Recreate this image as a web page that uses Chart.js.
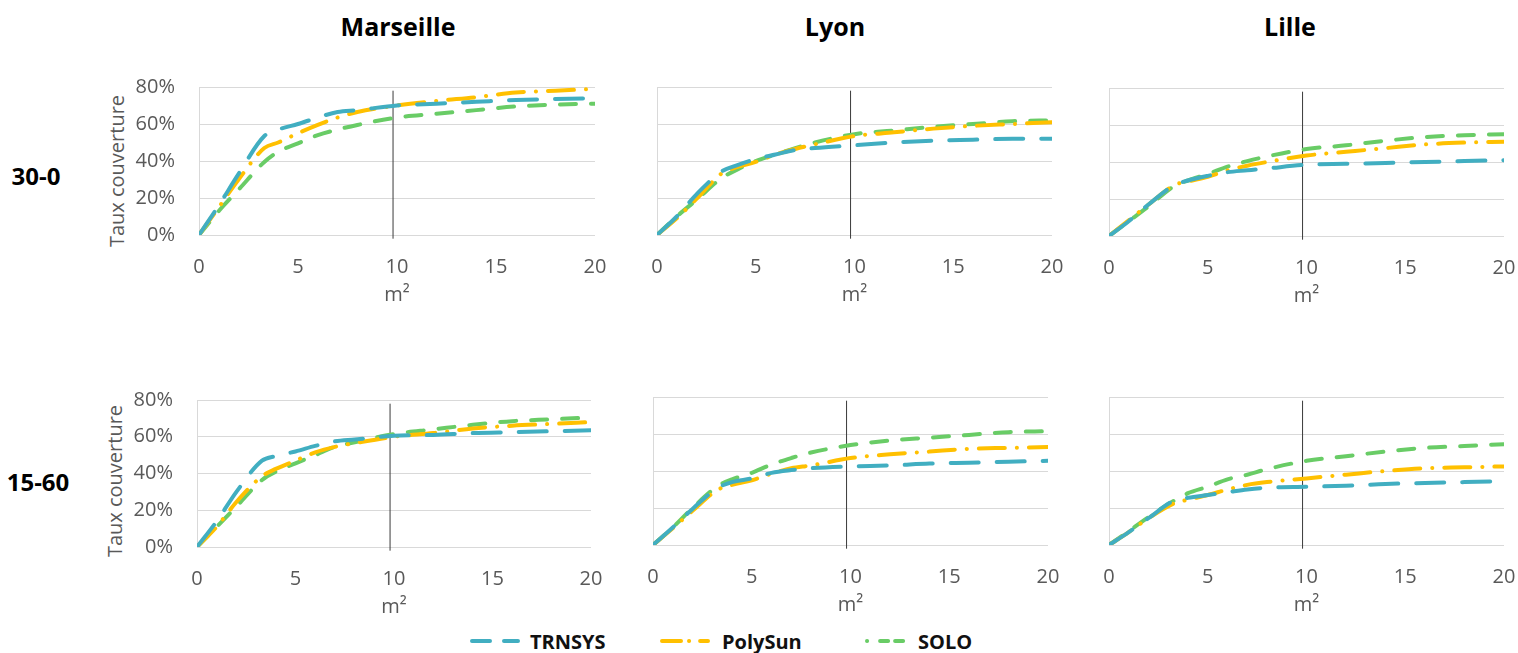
<!DOCTYPE html>
<html>
<head>
<meta charset="utf-8">
<script src="https://cdn.jsdelivr.net/npm/chart.js@4/dist/chart.umd.min.js"></script>
<style>
  html, body { margin: 0; padding: 0; background: #fff; }
  #page { position: relative; width: 1518px; height: 653px; overflow: hidden; font-family: "Open Sans", sans-serif; }
  #page canvas { position: absolute; }
  .title { position: absolute; font-weight: bold; font-size: 25px; color: #000; transform: translate(-50%, -50%); white-space: nowrap; }
  .row { position: absolute; font-weight: bold; font-size: 24px; color: #000; transform: translate(-50%, -50%); white-space: nowrap; }
  .ytitle { position: absolute; font-size: 20px; color: #595959; white-space: nowrap; transform: translate(-50%, -50%) rotate(-90deg); }
  .leg { position: absolute; font-weight: bold; font-size: 20px; color: #111; transform: translateY(-50%); white-space: nowrap; }
  .legsvg { position: absolute; }
</style>
</head>
<body>
<div id="page">
  <div class="title" style="left:398px; top:26px;">Marseille</div>
  <div class="title" style="left:835px; top:26px;">Lyon</div>
  <div class="title" style="left:1290px; top:26px;">Lille</div>
  <div class="row" style="left:36px; top:175px;">30-0</div>
  <div class="row" style="left:38px; top:481px;">15-60</div>
  <div class="ytitle" style="left:116px; top:171px;">Taux couverture</div>
  <div class="ytitle" style="left:114px; top:481px;">Taux couverture</div>

  <svg class="legsvg" style="left:466px; top:636px;" width="56" height="10">
    <line x1="6" y1="5" x2="52" y2="5" stroke="#41AEC1" stroke-width="4" stroke-linecap="round" stroke-dasharray="18 14"/>
  </svg>
  <div class="leg" style="left:530px; top:641px;">TRNSYS</div>
  <svg class="legsvg" style="left:656px; top:636px;" width="56" height="10">
    <line x1="6" y1="5" x2="52" y2="5" stroke="#FFC000" stroke-width="4" stroke-linecap="round" stroke-dasharray="19 8 0.1 11"/>
  </svg>
  <div class="leg" style="left:722px; top:641px;">PolySun</div>
  <svg class="legsvg" style="left:862px; top:636px;" width="50" height="10">
    <line x1="5" y1="5" x2="45" y2="5" stroke="#69CC66" stroke-width="4" stroke-linecap="round" stroke-dasharray="0.1 13 8 7 8 7"/>
  </svg>
  <div class="leg" style="left:918px; top:641px;">SOLO</div>
</div>
<script>
// surface de capteurs (m²)
const areas = [0, 1, 2, 3.3, 4, 5, 6, 7, 8, 10, 12, 14, 16, 18, 20];
const yTicks = [0, 20, 40, 60, 80];
const xTicks = [0, 5, 10, 15, 20];
const seriesNames = ["TRNSYS", "PolySun", "SOLO"];
const refLine = [{ x: 9.8, y: -2 }, { x: 9.8, y: 78 }];

// 30-0
const trnsys_marseille_30 = [0, 16, 33, 53.5, 57, 60, 63.5, 66.5, 67.5, 70, 71, 72, 73, 73.5, 74];
const polysun_marseille_30 = [0, 15, 30, 47, 50, 55, 59.5, 63.5, 66.5, 70, 72.5, 74.5, 77, 78, 79];
const solo_marseille_30 = [0, 13, 24.5, 39.5, 45, 49.5, 54, 57, 59.5, 63.5, 65.5, 67.5, 69.5, 70.5, 71];
const trnsys_lyon_30 = [0, 10, 22, 34.5, 37.5, 41, 43.5, 46, 47, 48.5, 50, 51, 51.5, 52, 52];
const polysun_lyon_30 = [0, 9, 19.5, 33.5, 36.5, 39.5, 43.5, 46.5, 49, 53.5, 55.5, 57.5, 59, 60, 61];
const solo_lyon_30 = [0, 10, 19, 31, 35, 40, 43.5, 47, 50, 54.5, 56.5, 58.5, 60, 61.5, 62];
const trnsys_lille_30 = [0, 8, 17, 27.5, 30, 32.5, 34.5, 35.5, 36.5, 38.5, 39, 39.5, 40, 40.5, 41];
const polysun_lille_30 = [0, 8.5, 17, 27.5, 29.5, 32, 35.5, 38, 40, 43.5, 45.5, 47.5, 49.5, 50.5, 51];
const solo_lille_30 = [0, 8, 16, 27, 30, 33.5, 37.5, 40.5, 43, 47, 49, 51.5, 53.5, 54.5, 55];

// 15-60
const trnsys_marseille_15 = [0, 14, 30, 47, 49.5, 52, 55, 57.5, 58.5, 60.5, 61, 62, 62.5, 63, 63.5];
const polysun_marseille_15 = [0, 11, 24.5, 38.5, 42.5, 47, 51.5, 54.5, 56.5, 60, 62, 64.5, 66, 67, 68];
const solo_marseille_15 = [0, 11, 22, 36.5, 41, 45.5, 50, 54.5, 57, 61.5, 64, 66.5, 68.5, 69.5, 70.5];
const trnsys_lyon_15 = [0, 9.5, 19.5, 31, 34, 36, 39, 40.5, 41.5, 42.5, 43, 44, 44.5, 45, 45.5];
const polysun_lyon_15 = [0, 9, 18.5, 30, 32.5, 35, 38.5, 41.5, 43, 47, 49, 50.5, 52, 52.5, 53];
const solo_lyon_15 = [0, 9.5, 20, 32, 35.5, 39, 43.5, 47, 50, 54, 56.5, 58, 59.5, 61, 61.5];
const trnsys_lille_15 = [0, 7, 14.5, 24, 25.5, 27, 28.5, 30, 31, 31.5, 32, 33, 33.5, 34, 34.5];
const polysun_lille_15 = [0, 7, 14.5, 22.5, 24.5, 27, 30, 32.5, 34, 36, 38, 40, 41.5, 42, 42.5];
const solo_lille_15 = [0, 7.5, 15, 24, 28, 31.5, 35.5, 38, 41, 45.5, 48, 50.5, 52.5, 53.5, 54.5];

const styles = [
  { color: "#41AEC1", dash: [28, 18] },
  { color: "#FFC000", dash: [26, 12, 0.1, 12] },
  { color: "#69CC66", dash: [16, 15] }
];

// plot boxes in page pixels
const panels = [
  { L: 199, T: 87, R: 595, B: 235, yLabels: true, series: [trnsys_marseille_30, polysun_marseille_30, solo_marseille_30] },
  { L: 657, T: 87, R: 1052, B: 235, yLabels: false, series: [trnsys_lyon_30, polysun_lyon_30, solo_lyon_30] },
  { L: 1109, T: 88, R: 1504, B: 236, yLabels: false, series: [trnsys_lille_30, polysun_lille_30, solo_lille_30] },
  { L: 197, T: 400, R: 591, B: 547, yLabels: true, series: [trnsys_marseille_15, polysun_marseille_15, solo_marseille_15] },
  { L: 653, T: 397, R: 1048, B: 545, yLabels: false, series: [trnsys_lyon_15, polysun_lyon_15, solo_lyon_15] },
  { L: 1109, T: 397, R: 1504, B: 545, yLabels: false, series: [trnsys_lille_15, polysun_lille_15, solo_lille_15] }
];

Chart.defaults.font.family = '"Open Sans", sans-serif';
Chart.defaults.color = "#595959";

// room around the plot so tick label overflow never moves the plot area
const padTop = 40, padRight = 36, xH = 76;
const page = document.getElementById("page");

panels.forEach(function (p) {
  const yW = p.yLabels ? 100 : 30;
  const left = p.L - yW, top = p.T - padTop;
  const w = p.R + padRight - left, h = p.B + xH - top;
  const cv = document.createElement("canvas");
  cv.width = w; cv.height = h;
  cv.style.left = left + "px"; cv.style.top = top + "px";
  cv.style.width = w + "px"; cv.style.height = h + "px";
  page.appendChild(cv);

  const datasets = p.series.map(function (vals, i) {
    return {
      label: seriesNames[i],
      data: areas.map(function (a, k) { return { x: a, y: vals[k] }; }),
      borderColor: styles[i].color,
      borderWidth: 4,
      borderDash: styles[i].dash,
      borderCapStyle: "round",
      borderJoinStyle: "round",
      cubicInterpolationMode: "monotone",
      pointRadius: 0,
      fill: false
    };
  });
  datasets.push({
    label: "ref",
    data: refLine,
    borderColor: "#3a3a3a",
    borderWidth: 1,
    pointRadius: 0,
    clip: false
  });

  new Chart(cv, {
    type: "line",
    data: { datasets: datasets },
    options: {
      responsive: false,
      animation: false,
      devicePixelRatio: 1,
      layout: { padding: { top: padTop, right: padRight, left: 0, bottom: 0 } },
      plugins: { legend: { display: false }, tooltip: { enabled: false } },
      scales: {
        x: {
          type: "linear", min: 0, max: 20,
          afterBuildTicks: function (s) { s.ticks = xTicks.map(function (v) { return { value: v }; }); },
          grid: { display: false, drawTicks: false },
          border: { display: false },
          ticks: { padding: 20, font: { size: 20 }, color: "#595959", maxRotation: 0 },
          title: { display: true, text: "m²", font: { size: 20 }, color: "#595959", padding: { top: 0, bottom: 4 } },
          afterFit: function (s) { s.height = xH; }
        },
        y: {
          min: 0, max: 80,
          afterBuildTicks: function (s) { s.ticks = yTicks.map(function (v) { return { value: v }; }); },
          grid: { color: "#D9D9D9", lineWidth: 1, drawTicks: false },
          border: { display: true, color: "#D9D9D9" },
          ticks: {
            display: p.yLabels, padding: 24, font: { size: 20 }, color: "#595959",
            callback: function (v) { return v + "%"; }
          },
          afterFit: function (s) { s.width = yW; }
        }
      }
    }
  });
});
</script>
</body>
</html>
